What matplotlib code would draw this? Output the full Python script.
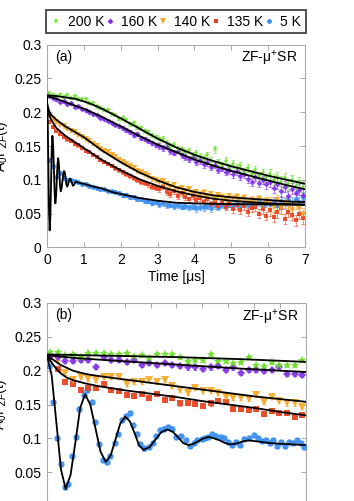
import numpy as np
import matplotlib
matplotlib.use('Agg')
import matplotlib.pyplot as plt
from matplotlib.lines import Line2D

plt.rcParams['font.family'] = ['Liberation Sans', 'DejaVu Sans']
plt.rcParams['mathtext.fontset'] = 'custom'
plt.rcParams['mathtext.rm'] = 'Liberation Sans'
plt.rcParams['mathtext.it'] = 'Liberation Sans:italic'

# ---------------- series definitions ----------------
labels = ['200 K', '160 K', '140 K', '135 K', '5 K']
colors = ['#6ade26', '#8030e6', '#f7a823', '#e8401c', '#3a8ef0']
markers = ['*', 'D', 'v', 's', 'o']

# ---------------- panel (a): 0-7 us ----------------
t_a = np.round(np.arange(0.05, 7.0, 0.1), 2)

a_200K = [0.228, 0.226, 0.224, 0.226, 0.223, 0.225, 0.221, 0.224, 0.220, 0.219,
          0.219, 0.214, 0.213, 0.209, 0.207, 0.204, 0.203, 0.198, 0.196, 0.190,
          0.191, 0.188, 0.183, 0.184, 0.178, 0.176, 0.172, 0.170, 0.166, 0.163,
          0.160, 0.161, 0.155, 0.150, 0.152, 0.146, 0.145, 0.141, 0.143, 0.137,
          0.139, 0.134, 0.131, 0.136, 0.128, 0.145, 0.126, 0.122, 0.128, 0.119,
          0.124, 0.117, 0.120, 0.112, 0.118, 0.109, 0.114, 0.106, 0.110, 0.103,
          0.108, 0.100, 0.104, 0.097, 0.102, 0.093, 0.099, 0.091, 0.096, 0.090]
a_160K = [0.224, 0.221, 0.219, 0.215, 0.216, 0.212, 0.213, 0.208, 0.209, 0.205,
          0.203, 0.201, 0.198, 0.196, 0.192, 0.190, 0.187, 0.184, 0.181, 0.179,
          0.176, 0.174, 0.171, 0.166, 0.168, 0.162, 0.160, 0.158, 0.154, 0.152,
          0.150, 0.147, 0.149, 0.142, 0.140, 0.143, 0.136, 0.134, 0.131, 0.133,
          0.127, 0.129, 0.123, 0.126, 0.119, 0.122, 0.115, 0.118, 0.112, 0.114,
          0.109, 0.113, 0.105, 0.108, 0.101, 0.097, 0.104, 0.095, 0.100, 0.093,
          0.097, 0.088, 0.094, 0.083, 0.090, 0.076, 0.087, 0.080, 0.085, 0.078]
a_140K = [0.196, 0.190, 0.186, 0.181, 0.179, 0.175, 0.172, 0.170, 0.167, 0.164,
          0.160, 0.158, 0.153, 0.150, 0.146, 0.143, 0.141, 0.137, 0.133, 0.130,
          0.126, 0.124, 0.120, 0.118, 0.113, 0.111, 0.108, 0.106, 0.101, 0.100,
          0.096, 0.098, 0.093, 0.089, 0.092, 0.086, 0.088, 0.083, 0.086, 0.080,
          0.082, 0.078, 0.081, 0.075, 0.079, 0.072, 0.077, 0.074, 0.070, 0.076,
          0.071, 0.074, 0.068, 0.073, 0.066, 0.070, 0.064, 0.072, 0.062, 0.069,
          0.066, 0.060, 0.070, 0.058, 0.066, 0.062, 0.055, 0.064, 0.058, 0.050]
a_135K = [0.186, 0.178, 0.172, 0.168, 0.164, 0.160, 0.158, 0.153, 0.151, 0.147,
          0.143, 0.141, 0.137, 0.134, 0.130, 0.127, 0.124, 0.121, 0.117, 0.114,
          0.112, 0.108, 0.106, 0.102, 0.100, 0.097, 0.095, 0.093, 0.089, 0.088,
          0.086, 0.090, 0.082, 0.079, 0.083, 0.076, 0.080, 0.074, 0.071, 0.076,
          0.070, 0.073, 0.067, 0.071, 0.064, 0.069, 0.061, 0.066, 0.060, 0.064,
          0.057, 0.063, 0.055, 0.061, 0.052, 0.058, 0.060, 0.050, 0.056, 0.047,
          0.055, 0.045, 0.052, 0.058, 0.042, 0.053, 0.048, 0.040, 0.050, 0.043]
a_5K = [0.130, 0.120, 0.104, 0.110, 0.103, 0.100, 0.099, 0.098, 0.096, 0.094,
        0.093, 0.091, 0.090, 0.088, 0.087, 0.086, 0.084, 0.083, 0.082, 0.080,
        0.078, 0.077, 0.075, 0.074, 0.072, 0.071, 0.069, 0.068, 0.066, 0.067,
        0.064, 0.065, 0.062, 0.063, 0.061, 0.062, 0.060, 0.061, 0.059, 0.060,
        0.058, 0.060, 0.059, 0.061, 0.058, 0.062, 0.060, 0.063, 0.061, 0.064,
        0.062, 0.065, 0.063, 0.066, 0.062, 0.065, 0.064, 0.067, 0.063, 0.066,
        0.064, 0.067, 0.063, 0.068, 0.065, 0.070, 0.066, 0.072, 0.067, 0.074]
# error bar size per 1-us block
err_a_blocks = [0.002, 0.002, 0.003, 0.004, 0.005, 0.006, 0.008]

# fit curves, panel (a)
fa_t_200K = [0, 0.25, 0.5, 0.75, 1.0, 1.25, 1.5, 1.75, 2.0, 2.5, 3.0, 3.5, 4.0, 4.5, 5.0, 5.5, 6.0, 6.5, 7.0]
fa_v_200K = [0.225, 0.224, 0.222, 0.220, 0.216, 0.211, 0.205, 0.198, 0.191, 0.176, 0.161, 0.148, 0.137, 0.128, 0.120, 0.113, 0.106, 0.100, 0.094]
fa_t_160K = [0, 0.25, 0.5, 0.75, 1.0, 1.5, 2.0, 2.5, 3.0, 3.5, 4.0, 4.5, 5.0, 5.5, 6.0, 6.5, 7.0]
fa_v_160K = [0.224, 0.220, 0.215, 0.210, 0.205, 0.193, 0.179, 0.165, 0.152, 0.141, 0.130, 0.121, 0.113, 0.106, 0.099, 0.092, 0.086]
fa_t_140K = [0, 0.05, 0.1, 0.25, 0.5, 0.75, 1.0, 1.5, 2.0, 2.5, 3.0, 3.5, 4.0, 4.5, 5.0, 5.5, 6.0, 6.5, 7.0]
fa_v_140K = [0.213, 0.203, 0.197, 0.189, 0.179, 0.171, 0.163, 0.143, 0.126, 0.111, 0.099, 0.089, 0.082, 0.077, 0.074, 0.072, 0.070, 0.068, 0.067]
fa_t_135K = [0, 0.05, 0.1, 0.25, 0.5, 0.75, 1.0, 1.5, 2.0, 2.5, 3.0, 3.5, 4.0, 4.5, 5.0, 5.5, 6.0, 6.5, 7.0]
fa_v_135K = [0.212, 0.198, 0.190, 0.177, 0.165, 0.156, 0.147, 0.129, 0.114, 0.101, 0.091, 0.083, 0.077, 0.072, 0.069, 0.067, 0.065, 0.064, 0.063]

# oscillating 5 K fit (read densely over the first microsecond)
f_t_5K_osc = [0.0, 0.018, 0.036, 0.054, 0.072, 0.091, 0.110, 0.128, 0.147, 0.167, 0.187, 0.207,
              0.227, 0.246, 0.265, 0.283, 0.302, 0.320, 0.338, 0.355, 0.373, 0.396, 0.418, 0.441,
              0.464, 0.485, 0.505, 0.526, 0.547, 0.566, 0.585, 0.605, 0.624, 0.645, 0.666, 0.688,
              0.709, 0.727, 0.745, 0.762, 0.780]
f_v_5K_osc = [0.222, 0.193, 0.124, 0.054, 0.025, 0.046, 0.095, 0.145, 0.165, 0.150, 0.115, 0.080,
              0.065, 0.075, 0.099, 0.122, 0.132, 0.125, 0.108, 0.090, 0.083, 0.087, 0.098, 0.109,
              0.113, 0.110, 0.102, 0.093, 0.090, 0.092, 0.096, 0.100, 0.102, 0.100, 0.097, 0.093,
              0.091, 0.092, 0.094, 0.096, 0.097]
fa_t_5K_tail = [0.9, 1.0, 1.25, 1.5, 1.75, 2.0, 2.5, 3.0, 3.5, 4.0, 5.0, 6.0, 7.0]
fa_v_5K_tail = [0.095, 0.094, 0.090, 0.087, 0.082, 0.079, 0.073, 0.069, 0.066, 0.065, 0.064, 0.0635, 0.063]
fb_t_5K_tail = [0.82, 0.86, 0.90, 0.95, 1.0]
fb_v_5K_tail = [0.095, 0.093, 0.092, 0.091, 0.090]

# ---------------- panel (b): 0-1 us ----------------
t_b = np.round(0.012 + 0.0295 * np.arange(34), 4)
b_200K = [0.228, 0.228, 0.223, 0.224, 0.2195, 0.2254, 0.2263, 0.2263, 0.225, 0.225, 0.2263, 0.221,
          0.223, 0.219, 0.224, 0.225, 0.2244, 0.2204, 0.2145, 0.2165, 0.2155, 0.2244, 0.2145, 0.2145,
          0.2115, 0.213, 0.2204, 0.208, 0.2066, 0.213, 0.208, 0.208, 0.208, 0.2155]
b_160K = [0.221, 0.2195, 0.2145, 0.2145, 0.2155, 0.2165, 0.205, 0.220, 0.2155, 0.2165, 0.213, 0.2155,
          0.208, 0.2115, 0.208, 0.2115, 0.208, 0.2066, 0.2047, 0.2047, 0.2032, 0.2047, 0.2066, 0.2007,
          0.2047, 0.1968, 0.2007, 0.2007, 0.1998, 0.2007, 0.2047, 0.1948, 0.1948, 0.1934]
b_140K = [0.218, 0.2155, 0.197, 0.186, 0.191, 0.187, 0.186, 0.191, 0.190, 0.191, 0.181, 0.1835,
          0.1835, 0.186, 0.1835, 0.186, 0.177, 0.172, 0.167, 0.1737, 0.170, 0.170, 0.167, 0.1613,
          0.159, 0.159, 0.1575, 0.1638, 0.154, 0.161, 0.1555, 0.1515, 0.1515, 0.1465]
b_135K = [0.2204, 0.202, 0.1835, 0.181, 0.172, 0.174, 0.175, 0.180, 0.171, 0.170, 0.164, 0.162,
          0.166, 0.160, 0.166, 0.157, 0.160, 0.1515, 0.152, 0.1505, 0.1476, 0.1515, 0.1555, 0.154,
          0.144, 0.144, 0.1417, 0.144, 0.1358, 0.140, 0.1368, 0.1368, 0.131, 0.134]
tb_5K = [0.009, 0.022, 0.038, 0.054, 0.070, 0.083, 0.096, 0.112, 0.125, 0.141, 0.156, 0.173,
         0.187, 0.202, 0.216, 0.231, 0.244, 0.261, 0.273, 0.289, 0.305, 0.319, 0.332, 0.348,
         0.360, 0.376, 0.393, 0.408, 0.422, 0.438, 0.451, 0.466, 0.483, 0.500, 0.516, 0.535,
         0.552, 0.567, 0.580, 0.597, 0.610, 0.623, 0.638, 0.654, 0.671, 0.683, 0.700, 0.716,
         0.729, 0.744, 0.761, 0.780, 0.800, 0.815, 0.832, 0.845, 0.860, 0.873, 0.888, 0.903,
         0.919, 0.935, 0.951, 0.965, 0.981, 0.994]
b_5K = [0.207, 0.153, 0.100, 0.0615, 0.0285, 0.0325, 0.074, 0.102, 0.143, 0.164, 0.171, 0.154,
        0.124, 0.091, 0.068, 0.065, 0.074, 0.0925, 0.106, 0.127, 0.133, 0.137, 0.1195, 0.107,
        0.091, 0.085, 0.0875, 0.0935, 0.104, 0.113, 0.1145, 0.117, 0.1145, 0.102, 0.103, 0.098,
        0.089, 0.0925, 0.0975, 0.0985, 0.100, 0.102, 0.107, 0.103, 0.102, 0.100, 0.095, 0.090,
        0.095, 0.090, 0.0985, 0.101, 0.105, 0.100, 0.096, 0.0975, 0.0935, 0.0975, 0.0885, 0.095,
        0.0885, 0.095, 0.0925, 0.0975, 0.0935, 0.0875]

fb_t_200K = [0, 0.25, 0.5, 0.75, 1.0]
fb_v_200K = [0.224, 0.222, 0.220, 0.217, 0.213]
fb_t_160K = [0, 0.1, 0.25, 0.5, 0.75, 1.0]
fb_v_160K = [0.223, 0.219, 0.215, 0.209, 0.203, 0.198]
fb_t_140K = [0, 0.025, 0.05, 0.1, 0.15, 0.2, 0.3, 0.4, 0.5, 0.6, 0.7, 0.8, 0.9, 1.0]
fb_v_140K = [0.222, 0.216, 0.209, 0.200, 0.195, 0.192, 0.187, 0.182, 0.177, 0.172, 0.167, 0.162, 0.158, 0.154]
fb_t_135K = [0, 0.025, 0.05, 0.075, 0.1, 0.15, 0.2, 0.3, 0.4, 0.5, 0.6, 0.7, 0.8, 0.9, 1.0]
fb_v_135K = [0.222, 0.208, 0.197, 0.190, 0.186, 0.181, 0.177, 0.171, 0.166, 0.161, 0.155, 0.150, 0.145, 0.139, 0.134]

# ---------------- figure ----------------
W, H = 354, 501
fig = plt.figure(figsize=(W / 100, H / 100), dpi=100)
axA = fig.add_axes([47 / W, 1 - 247.3 / H, 258 / W, 202.6 / H])
axB = fig.add_axes([47 / W, 1 - 506 / H, 259 / W, 203 / H])

msz_a = {'*': 5.0, 'D': 3.0, 'v': 4.0, 's': 3.2, 'o': 3.6}
msz_b = {'*': 6.5, 'D': 4.0, 'v': 5.2, 's': 4.0, 'o': 4.6}

data_a = [a_200K, a_160K, a_140K, a_135K, a_5K]
data_b = [b_200K, b_160K, b_140K, b_135K, b_5K]
tb_list = [t_b, t_b, t_b, t_b, tb_5K]
err_a = np.repeat(err_a_blocks, 10)

order = [4, 3, 2, 1, 0]
for i in order:
    y = np.array(data_a[i])
    axA.errorbar(t_a, y, yerr=err_a, fmt='none', ecolor=colors[i], alpha=0.55,
                 elinewidth=0.8, capsize=1.5, capthick=0.8, zorder=2)
    axA.plot(t_a, y, linestyle='none', marker=markers[i], color=colors[i],
             markersize=msz_a[markers[i]], markeredgewidth=0, alpha=0.9, zorder=3)
    yb = np.array(data_b[i])
    axB.errorbar(tb_list[i], yb, yerr=0.003, fmt='none', ecolor=colors[i], alpha=0.6,
                 elinewidth=0.8, capsize=1.5, capthick=0.8, zorder=2)
    axB.plot(tb_list[i], yb, linestyle='none', marker=markers[i], color=colors[i],
             markersize=msz_b[markers[i]], markeredgewidth=0, alpha=0.9, zorder=3)

lw = 1.3
for tt, vv in [(fa_t_200K, fa_v_200K), (fa_t_160K, fa_v_160K),
               (fa_t_140K, fa_v_140K), (fa_t_135K, fa_v_135K),
               (f_t_5K_osc + fa_t_5K_tail, f_v_5K_osc + fa_v_5K_tail)]:
    axA.plot(tt, vv, color='black', lw=lw, zorder=4)
for tt, vv in [(fb_t_200K, fb_v_200K), (fb_t_160K, fb_v_160K),
               (fb_t_140K, fb_v_140K), (fb_t_135K, fb_v_135K),
               (f_t_5K_osc + fb_t_5K_tail, f_v_5K_osc + fb_v_5K_tail)]:
    axB.plot(tt, vv, color='black', lw=lw, zorder=4)

for ax, xmax, xt, tag in [(axA, 7, np.arange(0, 8, 1), '(a)'),
                          (axB, 1, np.arange(0, 1.01, 0.1), '(b)')]:
    ax.set_xlim(0, xmax)
    ax.set_ylim(0, 0.3)
    ax.set_xticks(xt)
    ax.set_yticks([0, 0.05, 0.1, 0.15, 0.2, 0.25, 0.3])
    ax.set_yticklabels(['0', '0.05', '0.1', '0.15', '0.2', '0.25', '0.3'])
    ax.tick_params(direction='in', top=True, right=True, length=3.5, width=0.6,
                   color='#999999', labelsize=10, pad=4)
    for s in ax.spines.values():
        s.set_color('#aaaaaa')
        s.set_linewidth(0.8)
    ax.text(0.03, 0.94, tag, transform=ax.transAxes, fontsize=10, ha='left', va='center')
    ax.text(0.97, 0.93, 'ZF-μ$^{+}$SR', transform=ax.transAxes, fontsize=10, ha='right', va='center')
    ax.set_ylabel(r'A$_0$P$_{ZF}$(t)', fontsize=10)
    ax.yaxis.set_label_coords(-0.145, 0.5)

axA.set_xticklabels([str(v) for v in range(8)])
axA.set_xlabel('Time [μs]', fontsize=10, labelpad=2)
# panel (b) lies partly below the picture's lower edge; its x labels are not in view
axB.tick_params(labelbottom=False)

handles = [Line2D([], [], linestyle='none', marker=markers[i], color=colors[i],
                  markersize={'*': 5, 'D': 3, 'v': 4, 's': 3, 'o': 3.5}[markers[i]],
                  markeredgewidth=0) for i in range(5)]
leg = fig.legend(handles, labels, ncol=5, loc='center',
                 bbox_to_anchor=(46 / W, 1 - 34 / H, 260 / W, 25 / H), mode='expand',
                 frameon=True, fancybox=False, fontsize=10, handlelength=0.8,
                 handletextpad=0.4, columnspacing=0.6, borderpad=0.35, borderaxespad=0)
leg.get_frame().set_edgecolor('black')
leg.get_frame().set_linewidth(1.2)

fig.savefig('out.png', dpi=100)
